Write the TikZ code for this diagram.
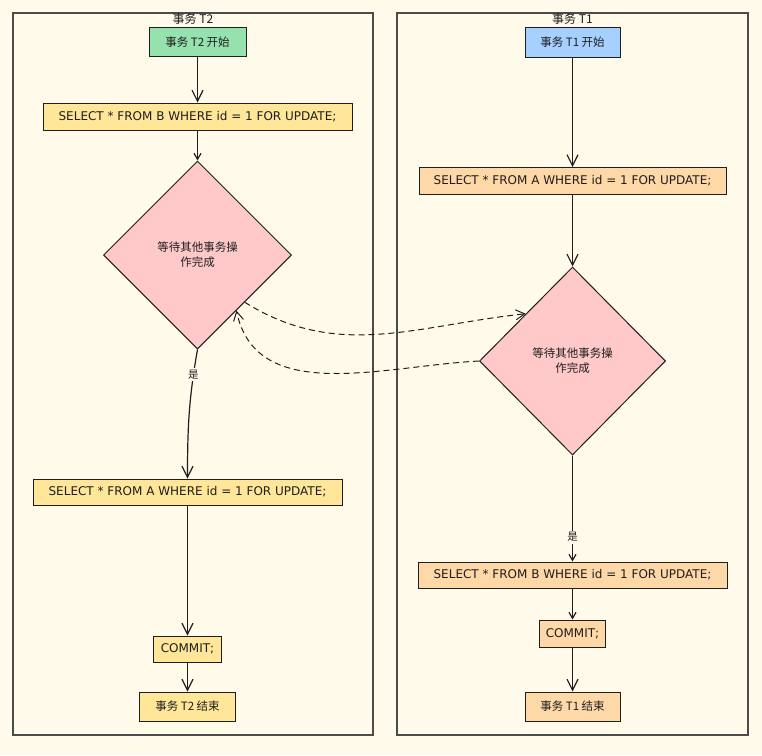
\documentclass[tikz,border=0pt]{standalone}
\usepackage{fontspec}
\setmainfont{Noto Sans CJK SC}
\newfontfamily\sqlfont{DejaVu Sans}
\usepackage{xcolor}
\usepackage{tikz}
\usetikzlibrary{positioning,arrows.meta,shapes.geometric}

\definecolor{paper}{HTML}{FFFAEA}
\definecolor{ink}{HTML}{1E1E1E}
\definecolor{startgreen}{HTML}{96E2AE}
\definecolor{startblue}{HTML}{A5D0FF}
\definecolor{stepyellow}{HTML}{FFE699}
\definecolor{steporange}{HTML}{FFD8A8}
\definecolor{waitpink}{HTML}{FFC9C9}

\begin{document}
\begin{tikzpicture}[
    x=1pt, y=1pt,
    lane/.style={rectangle, draw=ink!80, line width=1.3pt, minimum height=722pt, inner sep=0pt},
    lanetitle/.style={anchor=north, inner sep=1pt, text=ink, font=\fontsize{12}{13}\selectfont},
    stepbox/.style={rectangle, draw=ink, line width=1pt, minimum height=27pt, inner sep=0pt, text=ink, font=\fontsize{11.5}{13}\selectfont},
    sqlbox/.style={stepbox, font=\sqlfont\fontsize{12}{13}\selectfont},
    waitbox/.style={diamond, draw=ink, fill=waitpink, line width=1pt, minimum width=188pt, minimum height=188pt, inner sep=0pt, align=center, text=ink, font=\fontsize{11.5}{15}\selectfont},
    yeslabel/.style={fill=paper, inner sep=2pt, text=ink, font=\fontsize{10.5}{11}\selectfont},
    arrow/.style={-{Straight Barb[length=11pt, width=11pt]}, line width=1.2pt, ink},
    shortarrow/.style={-{Straight Barb[length=6pt, width=7pt]}, line width=1.2pt, ink},
    dashedarrow/.style={-{Straight Barb[length=9pt, width=10pt]}, line width=1pt, ink, dash pattern=on 6pt off 4pt},
]

% === CANVAS: 762 x 755, y grows downwards as negative ===
\useasboundingbox (0,0) rectangle (762,-755);
\fill[paper] (0,0) rectangle (762,-755);

% === LANES ===
\node[lane, minimum width=360pt] (laneT2) at (193,-374) {};
\node[lane, minimum width=351pt] (laneT1) at (572.5,-374) {};
\node[lanetitle] (titleT2) at (laneT2.north) {事务 T2};
\node[lanetitle] (titleT1) at (laneT1.north) {事务 T1};

% === T2 column (left) ===
\node[stepbox, fill=startgreen, minimum width=97pt, minimum height=29pt] (startT2) at (197.5,-42) {事务 T2 开始};
\node[sqlbox, fill=stepyellow, minimum width=309pt] (selBT2) at (197.5,-116.5) {SELECT * FROM B WHERE id = 1 FOR UPDATE;};
\node[waitbox] (waitT2) at (197.5,-255) {等待其他事务操\\作完成};
\node[sqlbox, fill=stepyellow, minimum width=309pt, minimum height=26pt] (selAT2) at (187.5,-492) {SELECT * FROM A WHERE id = 1 FOR UPDATE;};
\node[sqlbox, fill=stepyellow, minimum width=68pt, minimum height=26pt] (commitT2) at (187.5,-649) {COMMIT;};
\node[stepbox, fill=stepyellow, minimum width=96pt, minimum height=29pt] (endT2) at (187.5,-706.5) {事务 T2 结束};

% === T1 column (right) ===
\node[stepbox, fill=startblue, minimum width=95pt, minimum height=30pt] (startT1) at (572.5,-42) {事务 T1 开始};
\node[sqlbox, fill=steporange, minimum width=307pt] (selAT1) at (572.5,-181) {SELECT * FROM A WHERE id = 1 FOR UPDATE;};
\node[waitbox, minimum width=186pt] (waitT1) at (572.5,-361) {等待其他事务操\\作完成};
\node[sqlbox, fill=steporange, minimum width=309pt, minimum height=26pt] (selBT1) at (572.5,-575) {SELECT * FROM B WHERE id = 1 FOR UPDATE;};
\node[sqlbox, fill=steporange, minimum width=66pt] (commitT1) at (572.5,-633.5) {COMMIT;};
\node[stepbox, fill=steporange, minimum width=95pt, minimum height=29pt] (endT1) at (572.5,-706.5) {事务 T1 结束};

% --- T2 flow ---
\draw[arrow] (startT2) -- (selBT2);
\draw[shortarrow] (selBT2) -- (waitT2);
\draw[arrow] (waitT2.south) to[out=-100, in=90] node[yeslabel, pos=0.18] {是} (selAT2.north);
\draw[arrow] (selAT2) -- (commitT2);
\draw[arrow] (commitT2) -- (endT2);

% --- T1 flow ---
\draw[arrow] (startT1) -- (selAT1);
\draw[arrow] (selAT1) -- (waitT1);
\draw[shortarrow] (waitT1) -- node[yeslabel, pos=0.77] {是} (selBT1);
\draw[shortarrow] (selBT1) -- (commitT1);
\draw[arrow] (commitT1) -- (endT1);

% --- waiting on each other (dashed) ---
\draw[dashedarrow] (waitT2.south east) to[out=-32, in=186] (waitT1.north west);
\draw[dashedarrow] (waitT1.west) to[out=183, in=-78] (waitT2.-55);

\end{tikzpicture}
\end{document}
